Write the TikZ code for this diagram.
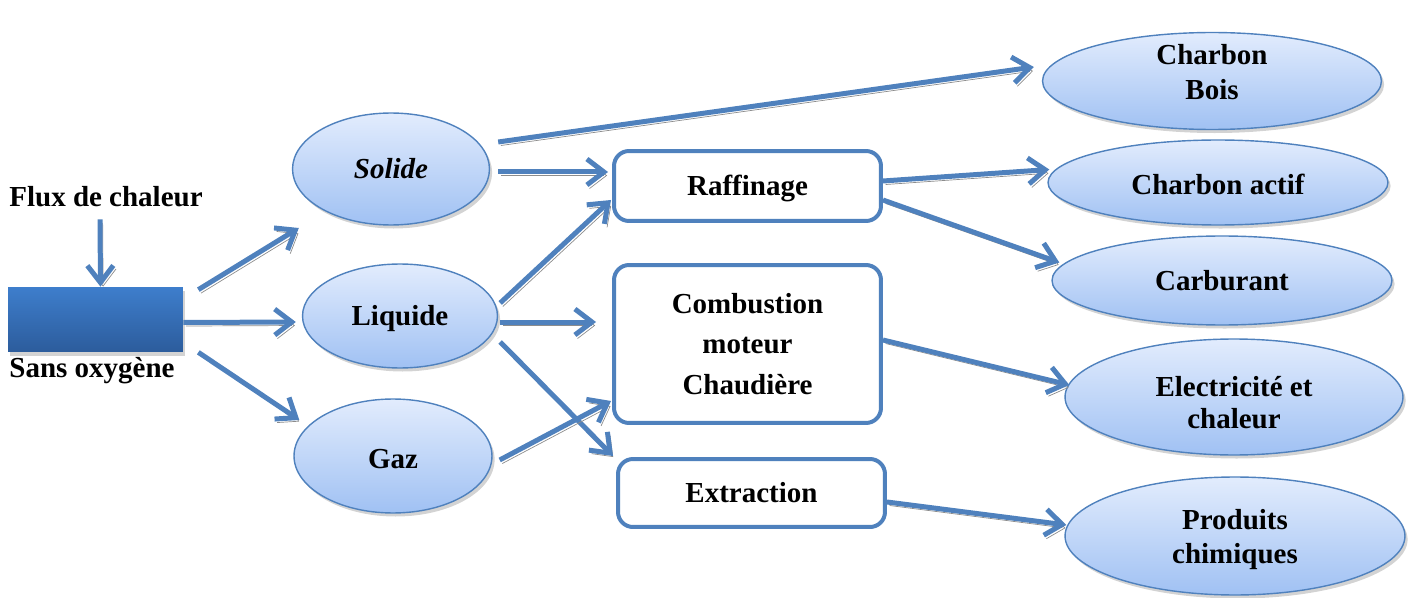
\documentclass[tikz,border=0pt]{standalone}
\usepackage{fontspec}
\setmainfont{Liberation Serif}
\usetikzlibrary{arrows.meta,calc,shadows,shapes.geometric}
\definecolor{arrblue}{RGB}{79,129,189}
\definecolor{elltop}{RGB}{226,236,253}
\definecolor{ellbot}{RGB}{160,193,243}
\definecolor{blktop}{RGB}{62,126,204}
\definecolor{blkbot}{RGB}{44,92,156}
% decale un texte sans changer la boite du noeud
\newcommand{\nudge}[2]{\raisebox{#1}[\height][\depth]{#2}}
\newcommand{\twolines}[4][0pt]{\nudge{#4}{\begin{tabular}{@{}c@{}}#2\\[#1]#3\end{tabular}}}
\begin{document}
\begin{tikzpicture}[x=0.02cm, y=-0.02cm,
  every node/.style={font=\fontsize{16.5}{19.5}\selectfont\bfseries},
  phase/.style={ellipse, draw=arrblue, line width=0.8pt, inner sep=0pt,
    top color=elltop, bottom color=ellbot,
    drop shadow={shadow xshift=1.5pt, shadow yshift=-2pt, opacity=0.35}},
  proc/.style={rectangle, rounded corners=0.3cm, draw=arrblue, line width=0.08cm,
    fill=white, inner sep=0pt, align=center},
  arr/.style={draw=arrblue, line width=0.1cm, -{Straight Barb[length=0.34cm, width=0.52cm]},
    preaction={draw=black!45, transform canvas={xshift=1.5pt, yshift=-2pt}}}]
\useasboundingbox (0,0) rectangle (1411,598);
% source
\node[rectangle, minimum width=3.5cm, minimum height=1.3cm, inner sep=0pt,
  top color=blktop, bottom color=blkbot,
  drop shadow={shadow xshift=1pt, shadow yshift=-2pt, opacity=0.35}] (blk) at (95.5,319.5) {};
\node (fx) at (106,197) {Flux de chaleur};
\node (so) at (92,371) {Sans oxygène};
% phases
\node[phase, minimum width=3.94cm, minimum height=2.24cm] (sol) at (391,169) {\itshape Solide};
\node[phase, minimum width=3.9cm, minimum height=2.08cm] (liq) at (400,316) {\nudge{-1.7pt}{Liquide}};
\node[phase, minimum width=3.96cm, minimum height=2.28cm] (gaz) at (393,456) {\nudge{-1.5pt}{Gaz}};
% procedes
\node[proc, minimum width=5.34cm, minimum height=1.4cm] (raf) at (747.5,186) {\nudge{-1.5pt}{Raffinage}};
\node[proc, minimum width=5.34cm, minimum height=3.16cm] (comb) at (747.5,344)
  {Combustion\\[3.5pt]moteur\\[3.5pt]Chaudière};
\node[proc, minimum width=5.34cm, minimum height=1.36cm] (ext) at (751.5,493) {Extraction};
% produits
\node[phase, minimum width=6.78cm, minimum height=1.94cm] (cb) at (1212,81)
  {\twolines{Charbon}{Bois}{3.4pt}};
\node[phase, minimum width=6.8cm, minimum height=1.7cm] (ca) at (1218,182.5) {\nudge{-1.2pt}{Charbon actif}};
\node[phase, minimum width=6.8cm, minimum height=1.78cm] (carb) at (1222,280.5) {Carburant};
\node[phase, minimum width=6.76cm, minimum height=2.32cm] (el) at (1234,397)
  {\twolines[-1.5pt]{Electricité et}{chaleur}{-5pt}};
\node[phase, minimum width=6.8cm, minimum height=2.36cm] (prod) at (1235,536)
  {\twolines{Produits}{chimiques}{-2pt}};
% fleches
\draw[arr] ($(fx.south)+(-6,6)$) -- ($(blk.north)+(5,0)$);
\draw[arr] ($(blk.north east)+(15,3)$) -- ($(sol.west)+(7,59)$);
\draw[arr] ($(blk.east)+(0,3)$) -- ($(liq.west)+(-6,6)$);
\draw[arr] ($(blk.south east)+(15,0)$) -- ($(gaz.west)+(6,-36)$);
\draw[arr] ($(sol.east)+(8,-27)$) -- ($(cb.west)+(-8,-14)$);
\draw[arr] ($(sol.east)+(8,3)$) -- ($(raf.west)+(-4,-14)$);
\draw[arr] ($(liq.east)+(2,-13)$) -- ($(raf.south west)+(-1,-23)$);
\draw[arr] ($(liq.east)+(2,6)$) -- ($(comb.west)+(-16,-22)$);
\draw[arr] ($(liq.east)+(2,26)$) -- ($(ext.north west)+(-3,-1)$);
\draw[arr] ($(gaz.east)+(7,4)$) -- ($(comb.south west)+(-1,-24)$);
\draw[arr] ($(raf.east)+(0,-5)$) -- ($(ca.west)+(2,-13)$);
\draw[arr] ($(raf.east)+(0,14)$) -- ($(carb.west)+(8,-18)$);
\draw[arr] ($(comb.east)+(0,-4)$) -- ($(el.west)+(5,-12)$);
\draw[arr] ($(ext.east)+(0,9)$) -- ($(prod.west)+(2,-11)$);
\end{tikzpicture}
\end{document}
